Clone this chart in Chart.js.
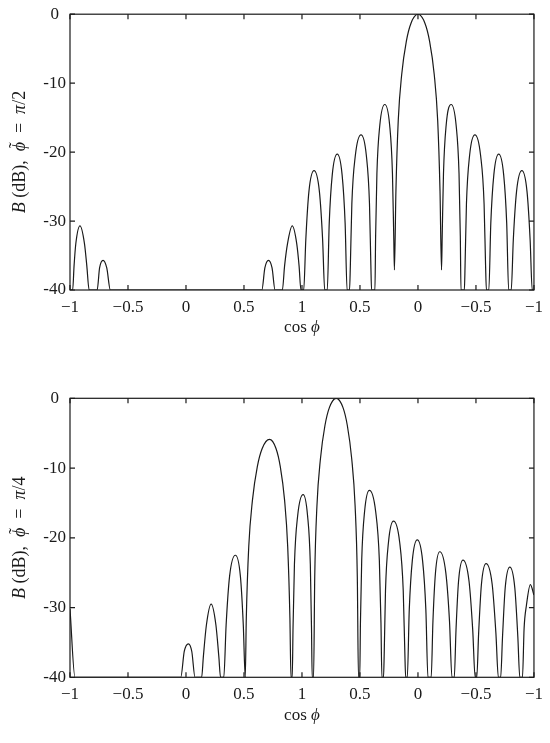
<!DOCTYPE html>
<html>
<head>
<meta charset="utf-8">
<script src="https://cdn.jsdelivr.net/npm/chart.js@4.4.1/dist/chart.umd.min.js"></script>
<style>
  html, body { margin: 0; padding: 0; background: #fff; overflow: hidden; }
  canvas { display: block; }
</style>
</head>
<body>
<canvas id="top" width="550" height="370"></canvas>
<canvas id="bottom" width="550" height="373"></canvas>
<script>
// axis runs 0..4, labelled as cos(phi) going -1 .. 1 .. -1
const xTickLabels = ["−1", "−0.5", "0", "0.5", "1", "0.5", "0", "−0.5", "−1"];
const yTickLabels = ["-40", "-30", "-20", "-10", "0"];

// phi = pi/2
const topX = [
  0, 0.023, 0.035, 0.05, 0.086, 0.125, 0.145, 0.165,
  0.234, 0.255, 0.285, 0.317, 0.348,
  1.654, 1.68, 1.711, 1.742, 1.768,
  1.831, 1.85, 1.875, 1.916, 1.955, 1.975, 1.991,
  2.015, 2.033, 2.06, 2.104, 2.15, 2.178, 2.196,
  2.218, 2.235, 2.261, 2.304, 2.346, 2.372, 2.389,
  2.41, 2.417, 2.43, 2.46, 2.509, 2.555, 2.582, 2.594, 2.6,
  2.629, 2.635, 2.646, 2.671, 2.714, 2.756, 2.78, 2.791, 2.797,
  2.81, 2.83, 2.86, 2.9, 2.94, 3.0, 3.06, 3.1, 3.14, 3.17, 3.19, 3.203,
  3.209, 3.22, 3.243, 3.286, 3.329, 3.354, 3.365, 3.371,
  3.4, 3.406, 3.418, 3.445, 3.491, 3.54, 3.57, 3.583, 3.59,
  3.611, 3.628, 3.654, 3.696, 3.739, 3.765, 3.782,
  3.804, 3.822, 3.85, 3.896, 3.94, 3.967, 3.985, 4.0
];
const topY = [
  -40, -40, -36.5, -33.3, -30.7, -33.3, -36.5, -40,
  -40, -36.8, -35.7, -36.8, -40,
  -40, -36.8, -35.7, -36.8, -40,
  -40, -36.5, -33.3, -30.7, -33.3, -36.5, -40,
  -40, -32.7, -25.7, -22.7, -25.7, -32.7, -40,
  -40, -30.3, -23.3, -20.3, -23.3, -30.3, -40,
  -40, -36.5, -27.5, -20.5, -17.5, -20.5, -27.5, -36.5, -40,
  -40, -32.1, -23.1, -16.1, -13.1, -16.1, -23.1, -32.1, -37.1,
  -25.6, -15.4, -8.7, -3.9, -1.3, 0, -1.3, -3.9, -8.7, -15.4, -25.6, -37.1,
  -32.1, -23.1, -16.1, -13.1, -16.1, -23.1, -32.1, -40,
  -40, -36.5, -27.5, -20.5, -17.5, -20.5, -27.5, -36.5, -40,
  -40, -30.3, -23.3, -20.3, -23.3, -30.3, -40,
  -40, -32.7, -25.7, -22.7, -25.7, -32.7, -40, -40
];

// phi = pi/4
const botX = [
  0, 0.043,
  0.955, 0.985, 1.021, 1.05, 1.078,
  1.135, 1.15, 1.176, 1.217, 1.258, 1.283, 1.298,
  1.326, 1.346, 1.376, 1.426, 1.469, 1.494, 1.511,
  1.52, 1.541, 1.573, 1.615, 1.657, 1.72, 1.776, 1.813, 1.85, 1.877, 1.896, 1.905,
  1.916, 1.923, 1.935, 1.963, 2.01, 2.048, 2.072, 2.082, 2.088,
  2.1, 2.11, 2.129, 2.159, 2.198, 2.237, 2.295, 2.353, 2.391, 2.429, 2.458, 2.477, 2.487,
  2.498, 2.504, 2.515, 2.54, 2.581, 2.635, 2.667, 2.681, 2.689,
  2.703, 2.709, 2.72, 2.746, 2.789, 2.842, 2.873, 2.887, 2.894,
  2.908, 2.925, 2.951, 2.994, 3.04, 3.068, 3.086,
  3.114, 3.129, 3.151, 3.188, 3.24, 3.272, 3.293,
  3.313, 3.328, 3.35, 3.388, 3.44, 3.472, 3.493,
  3.507, 3.523, 3.547, 3.587, 3.64, 3.672, 3.693,
  3.713, 3.729, 3.752, 3.792, 3.835, 3.861, 3.878,
  3.901, 3.915, 3.935, 3.969, 4.0
];
const botY = [
  -30.2, -40,
  -40, -36.3, -35.2, -36.3, -40,
  -40, -37, -32.5, -29.5, -32.5, -37, -40,
  -40, -32.5, -25.5, -22.5, -25.5, -32.5, -40,
  -31.5, -21.3, -14.6, -9.8, -7.2, -5.9, -7.2, -9.8, -14.6, -21.3, -31.5, -40,
  -40, -32.8, -23.8, -16.8, -13.8, -16.8, -23.8, -32.8, -40,
  -40, -25.6, -15.4, -8.7, -3.9, -1.3, 0, -1.3, -3.9, -8.7, -15.4, -25.6, -40,
  -40, -32.2, -23.2, -16.2, -13.2, -16.2, -23.2, -32.2, -40,
  -40, -36.6, -27.6, -20.6, -17.6, -20.6, -27.6, -36.6, -40,
  -40, -30.3, -23.3, -20.3, -23.3, -30.3, -40,
  -40, -32, -25, -22, -25, -32, -40,
  -40, -33.2, -26.2, -23.2, -26.2, -33.2, -40,
  -40, -33.7, -26.7, -23.7, -26.7, -33.7, -40,
  -40, -34.2, -27.2, -24.2, -27.2, -34.2, -40,
  -40, -33, -29.7, -26.7, -28.2
];

const FONT = '"Liberation Serif", "Times New Roman", serif';
const INK = "#1a1a1a";

// draws a row of text pieces (some italic, some with an accent), centred on 0,0
function drawPieces(ctx, pieces, size) {
  const fontOf = (p) => (p.it ? "italic " : "") + size + "px " + FONT;
  let total = 0;
  pieces.forEach((p) => {
    ctx.font = fontOf(p);
    p.w = ctx.measureText(p.t).width;
    total += p.w;
  });
  let x = -total / 2;
  pieces.forEach((p) => {
    ctx.font = fontOf(p);
    ctx.fillText(p.t, x, 0);
    if (p.acc) {
      ctx.font = size + "px " + FONT;
      const aw = ctx.measureText(p.acc).width;
      ctx.fillText(p.acc, x + (p.w - aw) / 2 + 1.5, -3);
    }
    x += p.w;
  });
}

const boxPlugin = {
  id: "box",
  afterDraw(chart) {
    const { ctx, chartArea: a, scales: { x, y } } = chart;
    ctx.save();
    ctx.strokeStyle = INK;
    ctx.lineWidth = 1.2;
    ctx.strokeRect(a.left, a.top, a.right - a.left, a.bottom - a.top);
    // inward tick marks on all four sides
    ctx.beginPath();
    x.ticks.forEach((t) => {
      const px = x.getPixelForValue(t.value);
      ctx.moveTo(px, a.bottom); ctx.lineTo(px, a.bottom - 5);
      ctx.moveTo(px, a.top); ctx.lineTo(px, a.top + 5);
    });
    y.ticks.forEach((t) => {
      const py = y.getPixelForValue(t.value);
      ctx.moveTo(a.left, py); ctx.lineTo(a.left + 5, py);
      ctx.moveTo(a.right, py); ctx.lineTo(a.right - 5, py);
    });
    ctx.stroke();

    ctx.fillStyle = INK;
    ctx.textBaseline = "middle";
    ctx.textAlign = "left";
    // x title
    ctx.save();
    ctx.translate((a.left + a.right) / 2, a.bottom + 38);
    drawPieces(ctx, [{ t: "cos " }, { t: "ϕ", it: true }], 17);
    ctx.restore();
    // y title
    ctx.save();
    ctx.translate(20, (a.top + a.bottom) / 2);
    ctx.rotate(-Math.PI / 2);
    drawPieces(ctx, chart.options.plugins.box.yTitle, 18);
    ctx.restore();
    ctx.restore();
  },
};

function makeChart(id, xs, ys, yTitle, padTop, xAxisH) {
  return new Chart(document.getElementById(id), {
    type: "line",
    data: {
      datasets: [{
        data: xs.map((v, i) => ({ x: v, y: ys[i] })),
        borderColor: INK,
        borderWidth: 1.2,
        pointRadius: 0,
        cubicInterpolationMode: "monotone",
      }],
    },
    plugins: [boxPlugin],
    options: {
      responsive: false,
      animation: false,
      layout: { padding: { top: padTop, right: 12.5, left: 0, bottom: 0 } },
      plugins: {
        legend: { display: false },
        tooltip: { enabled: false },
        box: { yTitle },
      },
      scales: {
        x: {
          type: "linear",
          min: 0,
          max: 4,
          afterFit: (s) => { s.height = xAxisH; },
          grid: { display: false, drawTicks: false },
          border: { display: false },
          ticks: {
            stepSize: 0.5,
            autoSkip: false,
            maxRotation: 0,
            padding: 7,
            color: INK,
            font: { family: FONT, size: 17 },
            callback: (v) => xTickLabels[Math.round(v * 2)],
          },
        },
        y: {
          min: -40,
          max: 0,
          afterFit: (s) => { s.width = 70; },
          grid: { display: false, drawTicks: false },
          border: { display: false },
          ticks: {
            stepSize: 10,
            padding: 4,
            crossAlign: "center",
            color: INK,
            font: { family: FONT, size: 17 },
            callback: (v) => yTickLabels[Math.round((v + 40) / 10)],
          },
        },
      },
    },
  });
}

makeChart("top", topX, topY, [
  { t: "B", it: true }, { t: " (dB),  " }, { t: "ϕ", it: true, acc: "˜" },
  { t: "  =  " }, { t: "π", it: true }, { t: "/2" },
], 11, 80);

makeChart("bottom", botX, botY, [
  { t: "B", it: true }, { t: " (dB),  " }, { t: "ϕ", it: true, acc: "˜" },
  { t: "  =  " }, { t: "π", it: true }, { t: "/4" },
], 28.3, 65.7);
</script>
</body>
</html>
